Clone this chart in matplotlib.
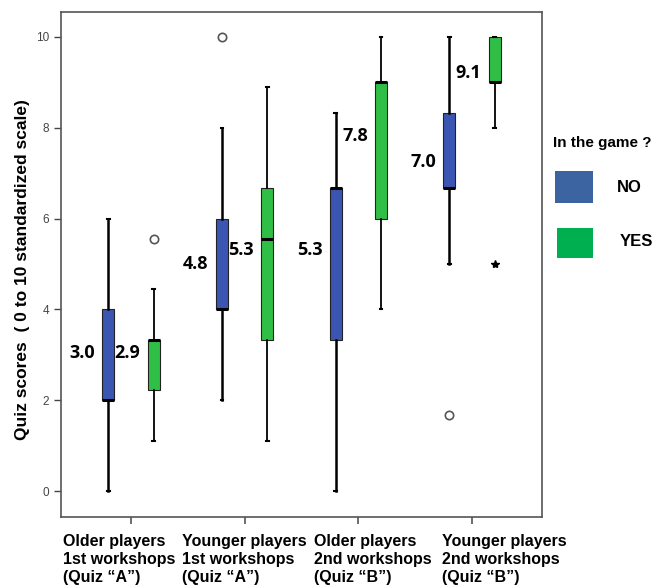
import matplotlib
matplotlib.use("Agg")
from matplotlib import pyplot as plt
from matplotlib.patches import Rectangle

plt.rcParams['font.family'] = ['Liberation Sans', 'DejaVu Sans']

# groups on the x axis
GROUPS = ["Older players\n1st workshops\n(Quiz \u201cA\u201d)",
          "Younger players\n1st workshops\n(Quiz \u201cA\u201d)",
          "Older players\n2nd workshops\n(Quiz \u201cB\u201d)",
          "Younger players\n2nd workshops\n(Quiz \u201cB\u201d)"]

# box stats, "NO" then "YES" for each group
no_whislo = [0.0, 2.0, 0.0, 5.0]
no_q1 = [2.0, 4.0, 3.33, 6.67]
no_med = [2.0, 4.0, 6.67, 6.67]
no_q3 = [4.0, 6.0, 6.67, 8.33]
no_whishi = [6.0, 8.0, 8.33, 10.0]
no_outliers = [[], [10.0], [], [1.67]]
no_means = ["3.0", "4.8", "5.3", "7.0"]

yes_whislo = [1.11, 1.11, 4.0, 8.0]
yes_q1 = [2.22, 3.33, 6.0, 9.0]
yes_med = [3.33, 5.56, 9.0, 9.0]
yes_q3 = [3.33, 6.67, 9.0, 10.0]
yes_whishi = [4.44, 8.89, 10.0, 10.0]
yes_outliers = [[5.56], [], [], []]
yes_extremes = [[], [], [], [5.0]]
yes_means = ["2.9", "5.3", "7.8", "9.1"]

# where the mean labels sit (y)
no_label_y = [3.05, 5.0, 5.3, 7.25]
yes_label_y = [3.05, 5.3, 7.82, 9.2]

BLUE = "#3b56b2"
GREEN = "#30bf46"

fig = plt.figure(figsize=(6.66, 5.86), dpi=100)
ax = fig.add_axes([0.0916, 0.1177, 0.7222, 0.8618])

def stats(lo, q1, med, q3, hi, fl):
    return [dict(whislo=lo[i], q1=q1[i], med=med[i], q3=q3[i], whishi=hi[i], fliers=fl[i])
            for i in range(len(lo))]

pos = list(range(len(GROUPS)))
off = 0.2
bw = 0.105
flier = dict(marker='o', markersize=6, markerfacecolor='white', markeredgecolor='#555555', markeredgewidth=1.2)
for st, p, col, wl in [(stats(no_whislo, no_q1, no_med, no_q3, no_whishi, no_outliers), [x - off for x in pos], BLUE, 1.8),
                       (stats(yes_whislo, yes_q1, yes_med, yes_q3, yes_whishi, yes_outliers), [x + off for x in pos], GREEN, 1.3)]:
    ax.bxp(st, positions=p, widths=bw, patch_artist=True, showfliers=True,
           boxprops=dict(facecolor=col, edgecolor='#222222', linewidth=0.8),
           medianprops=dict(color='black', linewidth=2.2),
           whiskerprops=dict(color='black', linewidth=wl),
           capprops=dict(color='black', linewidth=1.5),
           capwidths=0.025, flierprops=flier, manage_ticks=False)

# extreme values are stars
for i, ex in enumerate(yes_extremes):
    if ex:
        ax.plot([pos[i] + off] * len(ex), ex, marker='*', color='black', linestyle='none', markersize=6)

# mean labels
for i in pos:
    ax.text(i - off - 0.23, no_label_y[i], no_means[i], ha='center', va='center',
            fontsize=13, fontweight='bold', family=['Open Sans', 'DejaVu Sans'])
    ax.text(i + off - 0.23, yes_label_y[i], yes_means[i], ha='center', va='center',
            fontsize=13, fontweight='bold', family=['Open Sans', 'DejaVu Sans'])

ax.set_xlim(-0.616, 3.616)
ax.set_ylim(-0.57, 10.55)
ax.set_xticks(pos)
ax.set_xticklabels([])
ax.set_yticks([0, 2, 4, 6, 8, 10])
ax.tick_params(axis='y', labelsize=8.5, colors='#444444', length=5, width=1)
ax.tick_params(axis='x', length=5, width=1.2, colors='#555555')
for s in ax.spines.values():
    s.set_color('#555555')
    s.set_linewidth(1.2)

# x labels are left aligned text boxes at slightly different spots
label_left = [-0.60, -0.55, -0.39, -0.26]
for i, g in enumerate(GROUPS):
    ax.text(i + label_left[i], -0.033, g, transform=ax.get_xaxis_transform(), ha='left', va='top',
            fontsize=11.5, fontweight='bold', linespacing=1.25)

ax.set_ylabel("Quiz scores  ( 0 to 10 standardized scale)", fontsize=12.5, fontweight='bold')
ax.yaxis.set_label_coords(-0.064, 0.49)

# legend drawn as figure patches
fig.text(553 / 666, 1 - 143 / 586, "In the game ?", ha='left', va='center', fontsize=11, fontweight='bold')
fig.patches.append(Rectangle((555 / 666, 1 - 203 / 586), 38 / 666, 32 / 586, transform=fig.transFigure,
                             facecolor="#3c64a0", edgecolor='none'))
fig.patches.append(Rectangle((557 / 666, 1 - 258 / 586), 36 / 666, 30 / 586, transform=fig.transFigure,
                             facecolor="#00b050", edgecolor='none'))
fig.text(617 / 666, 1 - 188 / 586, "NO", ha='left', va='center', fontsize=12, fontweight='bold')
fig.text(620 / 666, 1 - 241 / 586, "YES", ha='left', va='center', fontsize=12, fontweight='bold')

fig.savefig("out.png", dpi=100)
